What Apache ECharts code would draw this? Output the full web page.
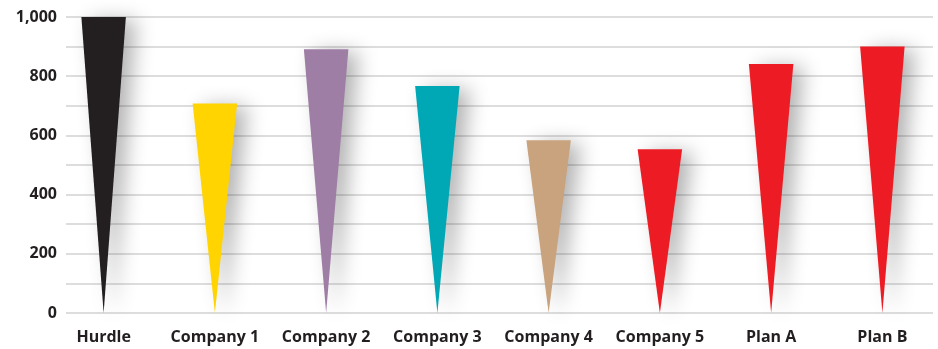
<!DOCTYPE html>
<html>
<head>
<meta charset="utf-8">
<script src="https://cdn.jsdelivr.net/npm/echarts@6/dist/echarts.min.js"></script>
<style>
  html, body { margin: 0; padding: 0; background: #fff; }
  #chart { width: 938px; height: 349px; }
</style>
</head>
<body>
<div id="chart"></div>
<script>
// Datos del gráfico
const categorias = ['Hurdle', 'Company 1', 'Company 2', 'Company 3', 'Company 4', 'Company 5', 'Plan A', 'Plan B'];
const valores = [1000, 708, 891, 767, 584, 553, 841, 900];
const colores = ['#231f20', '#ffd400', '#9f7ea6', '#00a7b5', '#c9a27e', '#ed1c24', '#ed1c24', '#ed1c24'];
const etiquetasY = [0, 200, 400, 600, 800, 1000];

const myChart = echarts.init(document.getElementById('chart'));

const fuente = '"Open Sans", "Noto Sans", sans-serif';

// Dibuja cada cuña (triángulo invertido) desde el eje
function dibujarCuna(params, api) {
    const idx = api.value(0);
    const arriba = api.coord([idx, api.value(1)]);
    const abajo = api.coord([idx, 0]);
    const media = api.size([1, 0])[0] * 0.4 / 2;
    return {
        type: 'polygon',
        shape: {
            points: [
                [arriba[0] - media, arriba[1]],
                [arriba[0] + media, arriba[1]],
                [abajo[0], abajo[1]]
            ]
        },
        style: {
            fill: colores[idx],
            shadowBlur: 20,
            shadowColor: 'rgba(0,0,0,0.3)',
            shadowOffsetX: 10,
            shadowOffsetY: 3
        }
    };
}

let option = {
    animation: false,
    grid: [
        // Rejilla de líneas horizontales
        {left: 66, right: 5, top: 17, bottom: 36},
        // Rejilla de las cuñas
        {left: 48, width: 892, top: 17, bottom: 36}
    ],
    xAxis: [
        {gridIndex: 0, type: 'value', show: false, min: 0, max: 1},
        {
            gridIndex: 1,
            type: 'category',
            data: categorias,
            axisLine: {show: false},
            axisTick: {show: false},
            axisLabel: {
                interval: 0,
                hideOverlap: false,
                margin: 16,
                fontSize: 16,
                fontWeight: 'bold',
                color: '#231f20',
                fontFamily: fuente
            }
        }
    ],
    yAxis: [
        {
            gridIndex: 0,
            type: 'value',
            min: 0,
            max: 1000,
            interval: 100,
            axisLine: {show: false},
            axisTick: {show: false},
            axisLabel: {
                margin: 9,
                fontSize: 16,
                fontWeight: 'bold',
                color: '#231f20',
                fontFamily: fuente,
                formatter: function (v) {
                    return etiquetasY.indexOf(v) >= 0 ? v.toLocaleString('en-US') : '';
                }
            },
            splitLine: {
                show: true,
                lineStyle: {color: '#d2d2d2', width: 1.5}
            }
        },
        {gridIndex: 1, type: 'value', show: false, min: 0, max: 1000}
    ],
    series: [
        {
            type: 'custom',
            xAxisIndex: 1,
            yAxisIndex: 1,
            renderItem: dibujarCuna,
            data: valores.map((v, i) => [i, v])
        }
    ]
};

myChart.setOption(option);
</script>
</body>
</html>
